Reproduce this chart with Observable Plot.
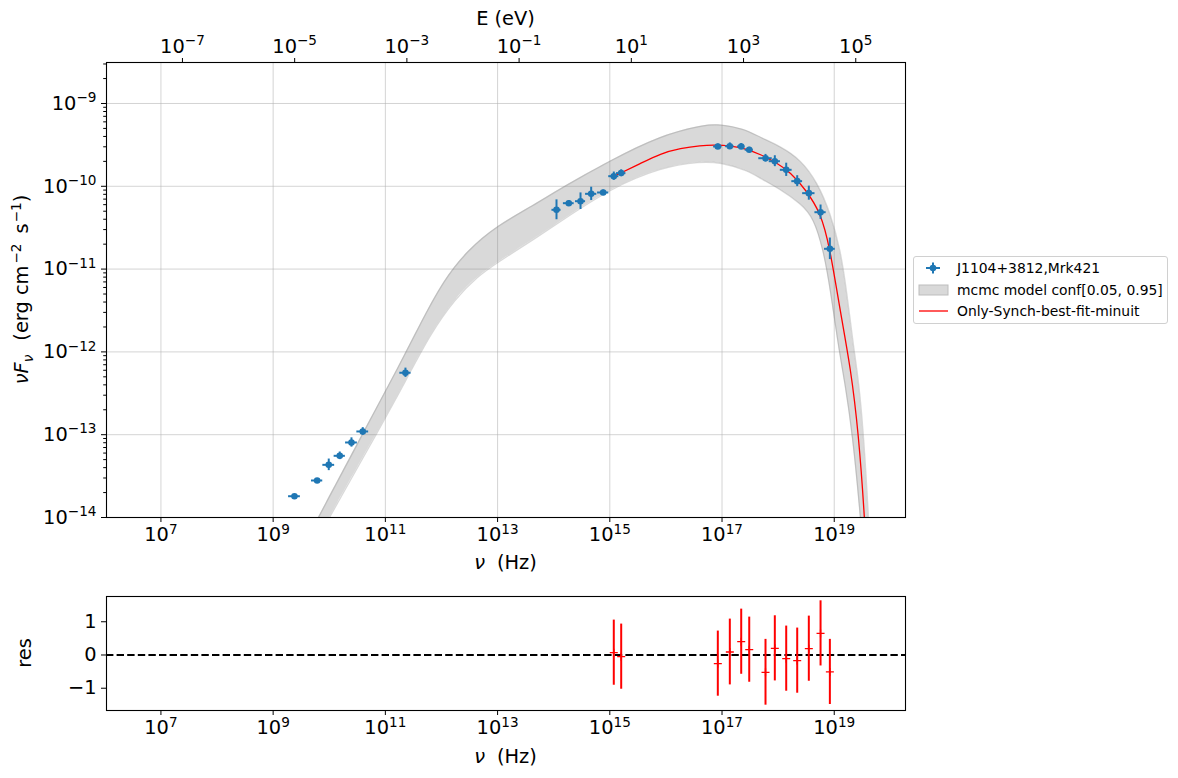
<!DOCTYPE html>
<html><head><meta charset="utf-8">
<script src="https://cdn.jsdelivr.net/npm/d3@7"></script>
<script src="https://cdn.jsdelivr.net/npm/@observablehq/plot@0.6"></script>
<style>
body{margin:0;background:#fff;font-family:"DejaVu Sans",sans-serif;}
#wrap{position:relative;width:1178px;height:778px;background:#fff;}
#wrap svg{display:block;}
#legend{position:absolute;left:913px;top:256px;width:255px;height:68px;border:1px solid #d0d0d0;border-radius:3px;background:#fff;font-size:13.9px;box-sizing:border-box;color:#000;}
.row{position:absolute;left:0;width:250px;height:20px;}
.row svg{position:absolute;left:4px;top:0;}
.row span{position:absolute;left:43px;top:1px;white-space:nowrap;line-height:18px;}
</style></head><body>
<div id="wrap"><div id="main"></div><div id="res"></div><div id="legend"></div></div>
<script>
// ---------- data (log10 values) ----------
const obsLogNu   = [9.380, 9.784, 9.991, 10.187, 10.396, 10.597, 11.358,
                    14.050, 14.269, 14.478, 14.668, 14.882, 15.071, 15.203,
                    16.925, 17.139, 17.342, 17.485, 17.775, 17.941, 18.144, 18.340, 18.547, 18.756, 18.922];
const obsLogFlux = [-13.743, -13.553, -13.364, -13.255, -13.094, -12.961, -12.252,
                    -10.284, -10.204, -10.180, -10.091, -10.075, -9.878, -9.841,
                    -9.519, -9.516, -9.519, -9.559, -9.661, -9.697, -9.801, -9.938, -10.083, -10.313, -10.755];
const obsErrLogNu   = [0.105, 0.10, 0.105, 0.10, 0.105, 0.105, 0.10,
                       0.081, 0.096, 0.09, 0.10, 0.10, 0.09, 0.084,
                       0.075, 0.075, 0.067, 0.072, 0.12, 0.10, 0.105, 0.096, 0.11, 0.10, 0.096];
const obsErrLogFlux = [0.015, 0.02, 0.07, 0.046, 0.056, 0.046, 0.056,
                       0.12, 0.032, 0.10, 0.08, 0.03, 0.05, 0.04,
                       0.03, 0.04, 0.035, 0.03, 0.046, 0.066, 0.08, 0.066, 0.085, 0.087, 0.13];

const bandUpLogNu   = [9.807, 10.628, 11.269, 11.626, 12.036, 12.463, 12.998, 13.640, 14.121, 15.012, 15.904, 16.706, 16.973,
                       17.383, 17.686, 18.043, 18.399, 18.702, 18.934, 19.113, 19.220, 19.345, 19.434, 19.523, 19.612, 19.648];
const bandUpLogFlux = [-14.0, -12.949, -12.140, -11.657, -11.138, -10.775, -10.473, -10.232, -10.027, -9.688, -9.386, -9.254, -9.254,
                       -9.302, -9.411, -9.519, -9.676, -9.954, -10.329, -10.775, -11.258, -11.947, -12.345, -12.986, -14.0, -14.519];
const bandLowLogNu   = [10.004, 10.877, 11.358, 11.804, 12.250, 12.642, 12.998, 13.640, 14.121, 15.012, 15.904, 16.617, 16.973,
                        17.455, 17.686, 18.043, 18.399, 18.631, 18.809, 18.934, 19.077, 19.184, 19.326, 19.469, 19.505, 19.541];
const bandLowLogFlux = [-14.0, -12.949, -12.357, -11.778, -11.355, -11.089, -10.920, -10.643, -10.425, -10.027, -9.773, -9.700, -9.713,
                        -9.809, -9.906, -10.039, -10.208, -10.377, -10.775, -11.258, -11.947, -12.345, -12.986, -14.0, -14.338, -14.640];

const modelLogNu   = [15.102, 15.547, 15.904, 16.260, 16.617, 16.884, 17.152, 17.419, 17.686, 17.954, 18.221, 18.489,
                      18.756, 18.916, 19.113, 19.291, 19.434, 19.541, 19.577];
const modelLogFlux = [-9.870, -9.725, -9.604, -9.540, -9.507, -9.501, -9.511, -9.543, -9.616, -9.707, -9.833, -10.039,
                      -10.316, -10.715, -11.536, -12.188, -12.986, -14.0, -14.519];

const resLogNu = [15.071, 15.203, 16.925, 17.139, 17.342, 17.485, 17.775, 17.941, 18.144, 18.340, 18.547, 18.756, 18.922];
const resValue = [0.07, -0.05, -0.26, 0.09, 0.40, 0.16, -0.52, 0.20, -0.11, -0.17, 0.19, 0.65, -0.51];
const resErr   = [0.98, 0.98, 0.98, 0.99, 0.98, 0.98, 0.99, 0.98, 0.98, 0.98, 0.98, 0.98, 0.98];

const xTicks = [1e7, 1e9, 1e11, 1e13, 1e15, 1e17, 1e19];
const yTicks = [1e-14, 1e-13, 1e-12, 1e-11, 1e-10, 1e-9];
const eTicks = [1e-7, 1e-5, 1e-3, 1e-1, 1e1, 1e3, 1e5];
const resTicks = [-1, 0, 1];
const legendLabels = ["J1104+3812,Mrk421", "mcmc model conf[0.05, 0.95]", "Only-Synch-best-fit-minuit"];

// ---------- derived tables ----------
const H_EV = 4.135667696e-15;
const xDomain = [10 ** 6.03, 10 ** 20.27];
const yDomain = [1e-14, 10 ** -8.505];
const points = obsLogNu.map((l, i) => ({
  x: 10 ** l, y: 10 ** obsLogFlux[i],
  xlo: 10 ** (l - obsErrLogNu[i]), xhi: 10 ** (l + obsErrLogNu[i]),
  ylo: 10 ** (obsLogFlux[i] - obsErrLogFlux[i]), yhi: 10 ** (obsLogFlux[i] + obsErrLogFlux[i])
}));
const band = bandUpLogNu.map((l, i) => ({
  xu: 10 ** l, yu: 10 ** bandUpLogFlux[i], xl: 10 ** bandLowLogNu[i], yl: 10 ** bandLowLogFlux[i]
}));
const model = modelLogNu.map((l, i) => ({x: 10 ** l, y: 10 ** modelLogFlux[i]}));
const resid = resLogNu.map((l, i) => ({x: 10 ** l, y: resValue[i], lo: resValue[i] - resErr[i], hi: resValue[i] + resErr[i]}));
const yMinor = [];
for (let d = -14; d <= -9; d++) for (let k = 2; k <= 9; k++) { const v = k * 10 ** d; if (v < yDomain[1]) yMinor.push(v); }

const fmtPow = v => { const e = Math.round(Math.log10(v)); return "10^" + (e < 0 ? "\u2212" + (-e) : String(e)); };
const FS = "19.4px";
const style = {fontFamily: "DejaVu Sans", fontSize: FS, color: "black", background: "white", overflow: "visible"};

const thinPlus = {draw(ctx, size) { const r = Math.sqrt(size / Math.PI); ctx.moveTo(-r, 0); ctx.lineTo(r, 0); ctx.moveTo(0, -r); ctx.lineTo(0, r); }};

function supify(svg) {
  d3.select(svg).selectAll("text").each(function() {
    const m = (this.textContent || "").match(/^10\^(.+)$/);
    if (!m) return;
    const s = d3.select(this);
    s.text(null);
    s.append("tspan").text("10");
    s.append("tspan").attr("dy", "-0.55em").attr("font-size", "13.6px").text(m[1]);
  });
}

// ---------- main panel ----------
const CURVE = "basis";
const main = Plot.plot({
  width: 1178, height: 580, marginLeft: 106, marginRight: 273, marginTop: 62, marginBottom: 63,
  x: {type: "log", domain: xDomain},
  y: {type: "log", domain: yDomain},
  style,
  marks: [
    Plot.gridX({ticks: xTicks, stroke: "#b0b0b0", strokeOpacity: 0.55, strokeWidth: 1}),
    Plot.gridY({ticks: yTicks, stroke: "#b0b0b0", strokeOpacity: 0.55, strokeWidth: 1}),
    Plot.area(band, {x1: "xu", y1: "yu", x2: "xl", y2: "yl", fill: "#808080", fillOpacity: 0.3, curve: CURVE, clip: true}),
    Plot.line(band, {x: "xu", y: "yu", stroke: "#808080", strokeOpacity: 0.3, strokeWidth: 1.3, curve: CURVE, clip: true}),
    Plot.line(band, {x: "xl", y: "yl", stroke: "#808080", strokeOpacity: 0.3, strokeWidth: 1.3, curve: CURVE, clip: true}),
    Plot.line(model, {x: "x", y: "y", stroke: "red", strokeWidth: 1.3, curve: CURVE, clip: true}),
    Plot.ruleX(points, {x: "x", y1: "ylo", y2: "yhi", stroke: "#1f77b4", strokeWidth: 2}),
    Plot.ruleY(points, {y: "y", x1: "xlo", x2: "xhi", stroke: "#1f77b4", strokeWidth: 2}),
    Plot.dot(points, {x: "x", y: "y", r: 3.3, fill: "#1f77b4"}),
    Plot.frame({stroke: "black", strokeWidth: 1.1}),
    Plot.axisX({ticks: xTicks, tickFormat: fmtPow, tickSize: 5, tickPadding: 5, label: null, anchor: "bottom"}),
    Plot.axisX({ticks: eTicks.map(e => e / H_EV), tickFormat: v => fmtPow(v * H_EV), tickSize: 5, tickPadding: 5, label: null, anchor: "top"}),
    Plot.axisY({ticks: yTicks, tickFormat: fmtPow, tickSize: 5, tickPadding: 5, label: null}),
    Plot.axisY({ticks: yMinor, tickFormat: () => "", tickSize: 2.8, label: null})
  ]
});
supify(main);
{
  const s = d3.select(main);
  const xl = s.append("text").attr("x", 505.5).attr("y", 569).attr("text-anchor", "middle").attr("font-size", FS);
  xl.append("tspan").attr("font-style", "italic").text("\u03bd");
  xl.append("tspan").attr("dx", "12").text("(Hz)");
  s.append("text").attr("x", 505.5).attr("y", 25).attr("text-anchor", "middle").attr("font-size", FS).text("E (eV)");
  const yl = s.append("text").attr("transform", "translate(28,289.5) rotate(-90)").attr("text-anchor", "middle").attr("font-size", FS);
  yl.append("tspan").attr("font-style", "italic").text("\u03bdF");
  yl.append("tspan").attr("font-style", "italic").attr("font-size", "13.6px").attr("dy", "4.5").text("\u03bd");
  yl.append("tspan").attr("dy", "-4.5").attr("dx", "14").text("(erg cm");
  yl.append("tspan").attr("font-size", "13.6px").attr("dy", "-7.5").attr("dx", "2").text("\u22122");
  yl.append("tspan").attr("dy", "7.5").attr("dx", "10").text("s");
  yl.append("tspan").attr("font-size", "13.6px").attr("dy", "-7.5").attr("dx", "1").text("\u22121");
  yl.append("tspan").attr("dy", "7.5").text(")");
}
document.getElementById("main").appendChild(main);

// ---------- residual panel ----------
const res = Plot.plot({
  width: 1178, height: 198, marginLeft: 106, marginRight: 273, marginTop: 16, marginBottom: 68,
  x: {type: "log", domain: xDomain},
  y: {domain: [-1.67, 1.76]},
  style,
  marks: [
    Plot.ruleY([0], {stroke: "black", strokeWidth: 2, strokeDasharray: "7.4,3.2"}),
    Plot.ruleX(resid, {x: "x", y1: "lo", y2: "hi", stroke: "red", strokeWidth: 2}),
    Plot.dot(resid, {x: "x", y: "y", r: 4, symbol: thinPlus, stroke: "red", strokeWidth: 1.3, fill: "none"}),
    Plot.frame({stroke: "black", strokeWidth: 1.1}),
    Plot.axisX({ticks: xTicks, tickFormat: fmtPow, tickSize: 5, tickPadding: 5, label: null}),
    Plot.axisY({ticks: resTicks, tickFormat: v => v < 0 ? "\u2212" + (-v) : String(v), tickSize: 5, tickPadding: 5, label: null})
  ]
});
supify(res);
{
  const s = d3.select(res);
  const xl = s.append("text").attr("x", 505.5).attr("y", 183).attr("text-anchor", "middle").attr("font-size", FS);
  xl.append("tspan").attr("font-style", "italic").text("\u03bd");
  xl.append("tspan").attr("dx", "12").text("(Hz)");
  s.append("text").attr("transform", "translate(31,73) rotate(-90)").attr("text-anchor", "middle").attr("font-size", FS).text("res");
}
document.getElementById("res").appendChild(res);

// ---------- legend ----------
const lg = document.getElementById("legend");
const icons = [
  '<svg width="34" height="20"><line x1="8" y1="10" x2="22" y2="10" stroke="#1f77b4" stroke-width="2"/><line x1="15" y1="4.5" x2="15" y2="15.5" stroke="#1f77b4" stroke-width="2"/><circle cx="15" cy="10" r="3.3" fill="#1f77b4"/></svg>',
  '<svg width="34" height="20"><rect x="1" y="5" width="29" height="10" fill="#d9d9d9" stroke="#bdbdbd" stroke-width="1"/></svg>',
  '<svg width="34" height="20"><line x1="1" y1="10" x2="30" y2="10" stroke="red" stroke-width="1.3"/></svg>'
];
const rowTops = [1, 23, 44];
legendLabels.forEach((t, i) => {
  const r = document.createElement("div");
  r.className = "row";
  r.style.top = rowTops[i] + "px";
  r.innerHTML = icons[i] + "<span></span>";
  r.querySelector("span").textContent = t;
  lg.appendChild(r);
});
</script>
</body></html>
